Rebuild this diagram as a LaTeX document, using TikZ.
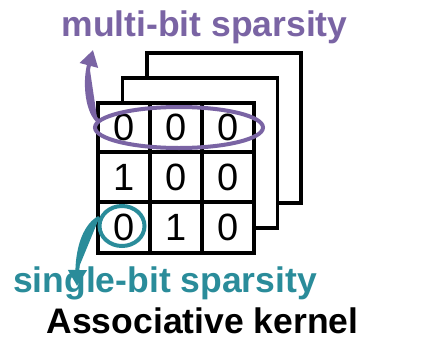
\documentclass[tikz,border=0pt]{standalone}
\usepackage{fontspec}
\setmainfont{Liberation Sans}
\usetikzlibrary{arrows.meta,shapes.geometric}
\definecolor{mbpurple}{RGB}{122,100,164}
\definecolor{sbteal}{RGB}{42,140,154}

\begin{document}
\begin{tikzpicture}[x=1pt,y=-1pt,
  sheet/.style={draw=black,fill=white,line width=3.5pt},
  gridline/.style={draw=black,line width=3.5pt},
  digit/.style={font=\fontsize{38}{38}\selectfont,inner sep=0pt},
  tagtext/.style={font=\fontsize{35.5}{36}\selectfont\bfseries,anchor=base,inner sep=0pt},
  ring/.style={ellipse,line width=4pt,inner sep=0pt,fill=none},
  hook/.style={line width=4pt,-{Triangle[length=16pt,width=18pt]}}
]
% canvas
\fill[white] (0,0) rectangle (433,351);
\useasboundingbox (0,0) rectangle (433,351);

% stacked kernel sheets, back to front
\draw[sheet] (147,53) rectangle (301,203);
\draw[sheet] (122.5,78) rectangle (277.5,228);
\draw[sheet] (98,103) rectangle (254,253);

% 3x3 grid on the front sheet
\draw[gridline] (150,103) -- (150,253);
\draw[gridline] (202,103) -- (202,253);
\draw[gridline] (98,152) -- (254,152);
\draw[gridline] (98,202) -- (254,202);

% kernel entries
\node[digit] (k11) at (124,127.5) {0};
\node[digit] (k12) at (176,127.5) {0};
\node[digit] (k13) at (228,127.5) {0};
\node[digit] (k21) at (124,177) {1};
\node[digit] (k22) at (176,177) {0};
\node[digit] (k23) at (228,177) {0};
\node[digit] (k31) at (124,227.5) {0};
\node[digit] (k32) at (176,227.5) {1};
\node[digit] (k33) at (228,227.5) {0};

% highlighted zero row and zero entry
\node[ring,draw=mbpurple,minimum width=168pt,minimum height=41pt] (mbring) at (179,127.5) {};
\node[ring,draw=sbteal,minimum width=45pt,minimum height=40pt] (sbring) at (122,226) {};

% labels
\node[tagtext,text=mbpurple] (mbtext) at (204.5,36) {multi-bit sparsity};
\node[tagtext,text=sbteal] (sbtext) at (165,292) {single-bit sparsity};
\node[tagtext,text=black] (title) at (202.5,333) {Associative kernel};

% pointers from the highlights to their labels
\coordinate (mbtip) at (93,50);
\coordinate (sbtip) at (77,286);
\draw[hook,draw=mbpurple,fill=mbpurple] (mbring.175) .. controls (86,108) and (85,80) .. (mbtip);
\draw[hook,draw=sbteal,fill=sbteal] (sbring.160) .. controls (86,225) and (78,245) .. (sbtip);
\end{tikzpicture}
\end{document}
